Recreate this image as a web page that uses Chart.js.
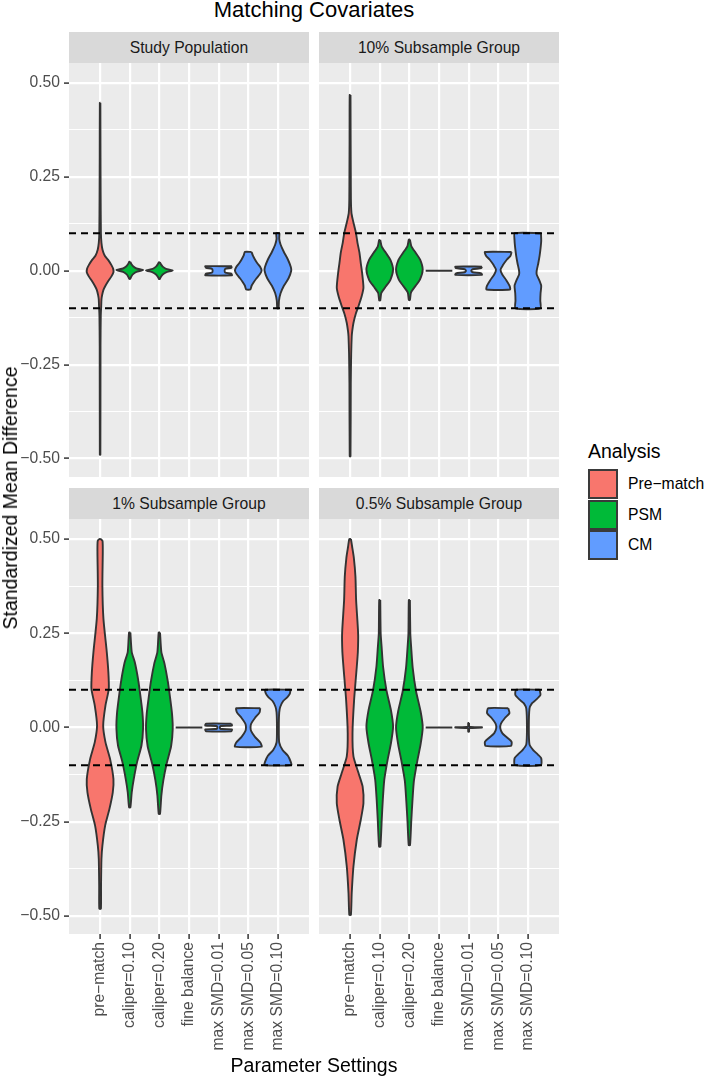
<!DOCTYPE html>
<html>
<head>
<meta charset="utf-8">
<script src="https://cdn.jsdelivr.net/npm/chart.js@4/dist/chart.umd.min.js"></script>
<style>
  body { margin: 0; background: #fff; font-family: "Liberation Sans", Arial, sans-serif; }
  #wrap { position: relative; width: 705px; height: 1077px; overflow: hidden; }
  canvas { position: absolute; }
  .strip { position: absolute; background: #D9D9D9; color: #1A1A1A; font-size: 15.7px; text-align: center; line-height: 31px; height: 31px; width: 240px; }
  .txt { position: absolute; white-space: nowrap; color: #000; }
  .key { position: absolute; left: 588px; width: 26px; height: 26px; border: 2px solid #3A3A3A; }
</style>
</head>
<body>
<div id="wrap">
  <div class="txt" style="left:0;width:628px;top:-1px;text-align:center;font-size:22px;line-height:22px;">Matching Covariates</div>

  <div class="strip" style="left:69px;top:32px;">Study Population</div>
  <div class="strip" style="left:319px;top:32px;">10% Subsample Group</div>
  <div class="strip" style="left:69px;top:488px;">1% Subsample Group</div>
  <div class="strip" style="left:319px;top:488px;">0.5% Subsample Group</div>

  <canvas id="p1" width="309" height="414" style="left:0;top:63px;"></canvas>
  <canvas id="p2" width="240" height="414" style="left:319px;top:63px;"></canvas>
  <canvas id="p3" width="309" height="536" style="left:0;top:519px;"></canvas>
  <canvas id="p4" width="240" height="536" style="left:319px;top:519px;"></canvas>

  <div class="txt" style="left:10px;top:498px;font-size:19.5px;line-height:20px;transform:translate(-50%,-50%) rotate(-90deg);">Standardized Mean Difference</div>
  <div class="txt" style="left:0;width:628px;top:1055px;text-align:center;font-size:19.5px;line-height:20px;">Parameter Settings</div>

  <div class="txt" style="left:588px;top:441px;font-size:19.5px;line-height:20px;">Analysis</div>
  <div id="legend"></div>
</div>

<script>
// facet labels / categories
const categories = ["pre\u2212match", "caliper=0.10", "caliper=0.20", "fine balance", "max SMD=0.01", "max SMD=0.05", "max SMD=0.10"];
const analyses = ["Pre\u2212match", "PSM", "CM"];
const analysisColors = ["#F8766D", "#00BA38", "#619CFF"];
const categoryAnalysis = [0, 1, 1, 2, 2, 2, 2];
const yTicks = [-0.5, -0.375, -0.25, -0.125, 0, 0.125, 0.25, 0.375, 0.5];
const smdThresholds = [0.1, -0.1];

// violin profiles: [SMD value, relative density (1 = full width)], top to bottom
const violinsStudy = [
  [[0.447,0.02],[0.30,0.03],[0.20,0.04],[0.10,0.06],[0.074,0.1],[0.056,0.18],[0.04,0.35],[0.029,0.6],[0.015,0.85],[0.005,0.98],[-0.004,1.0],[-0.015,0.85],[-0.028,0.6],[-0.04,0.4],[-0.051,0.25],[-0.065,0.15],[-0.077,0.1],[-0.095,0.08],[-0.12,0.05],[-0.2,0.03],[-0.49,0.02]],
  [[0.024,0.03],[0.018,0.12],[0.012,0.25],[0.006,0.5],[0.002,1.0],[-0.003,0.5],[-0.009,0.25],[-0.015,0.12],[-0.022,0.03]],
  [[0.023,0.03],[0.017,0.12],[0.011,0.25],[0.005,0.5],[0.001,1.0],[-0.004,0.5],[-0.01,0.25],[-0.016,0.12],[-0.022,0.03]],
  null,
  [[0.012,1.0],[0.008,0.95],[0.005,0.5],[0,0.45],[-0.005,0.5],[-0.008,0.95],[-0.012,1.0]],
  [[0.05,0.25],[0.04,0.35],[0.03,0.5],[0.02,0.68],[0.01,0.9],[0.0,1.0],[-0.01,0.85],[-0.02,0.62],[-0.03,0.42],[-0.04,0.25],[-0.05,0.15]],
  [[0.1,0.12],[0.085,0.1],[0.07,0.2],[0.05,0.45],[0.03,0.75],[0.01,0.97],[0.0,1.0],[-0.02,0.8],[-0.04,0.45],[-0.06,0.2],[-0.08,0.08],[-0.1,0.05]]
];
const violinsTen = [
  [[0.468,0.03],[0.35,0.04],[0.26,0.05],[0.19,0.06],[0.154,0.1],[0.136,0.2],[0.1,0.44],[0.075,0.55],[0.048,0.7],[0.02,0.8],[-0.006,0.9],[-0.045,1.0],[-0.07,0.85],[-0.095,0.62],[-0.115,0.42],[-0.139,0.25],[-0.16,0.16],[-0.175,0.12],[-0.22,0.08],[-0.3,0.05],[-0.494,0.03]],
  [[0.082,0.04],[0.064,0.15],[0.047,0.47],[0.029,0.8],[0.003,1.0],[-0.024,0.8],[-0.042,0.45],[-0.059,0.12],[-0.079,0.04]],
  [[0.083,0.04],[0.065,0.15],[0.048,0.47],[0.03,0.8],[0.003,1.0],[-0.023,0.8],[-0.041,0.45],[-0.058,0.12],[-0.078,0.04]],
  [[0,1.0]],
  [[0.011,1.0],[0.007,0.95],[0.004,0.3],[0,0.2],[-0.004,0.3],[-0.007,0.95],[-0.011,1.0]],
  [[0.05,1.0],[0.04,0.92],[0.03,0.65],[0.015,0.35],[0.003,0.17],[-0.01,0.3],[-0.025,0.6],[-0.04,0.85],[-0.05,0.88]],
  [[0.1,0.98],[0.08,1.0],[0.06,0.95],[0.04,0.88],[0.02,0.78],[0.0,0.66],[-0.01,0.66],[-0.025,0.85],[-0.04,1.0],[-0.06,0.95],[-0.08,0.93],[-0.1,0.93]]
];
const violinsOne = [
  [[0.5,0.05],[0.495,0.18],[0.465,0.2],[0.376,0.17],[0.288,0.25],[0.2,0.5],[0.146,0.62],[0.102,0.65],[0.058,0.4],[0.005,0.23],[-0.039,0.4],[-0.084,0.75],[-0.137,1.0],[-0.172,0.95],[-0.216,0.7],[-0.26,0.38],[-0.314,0.17],[-0.349,0.1],[-0.42,0.07],[-0.481,0.06]],
  [[0.252,0.05],[0.2,0.15],[0.173,0.38],[0.129,0.62],[0.084,0.8],[0.04,0.95],[-0.002,1.0],[-0.048,0.88],[-0.092,0.55],[-0.137,0.3],[-0.172,0.15],[-0.212,0.05]],
  [[0.252,0.05],[0.2,0.15],[0.17,0.38],[0.125,0.62],[0.08,0.8],[0.036,0.95],[-0.005,1.0],[-0.05,0.88],[-0.095,0.55],[-0.14,0.3],[-0.18,0.15],[-0.229,0.05]],
  [[0,1.0]],
  [[0.01,0.95],[0.005,1.0],[0.0035,0.12],[-0.0035,0.12],[-0.005,1.0],[-0.01,0.95]],
  [[0.051,0.9],[0.04,0.85],[0.025,0.5],[0.01,0.22],[0,0.17],[-0.01,0.22],[-0.025,0.5],[-0.04,0.9],[-0.051,1.0]],
  [[0.1,0.95],[0.09,0.9],[0.08,0.7],[0.07,0.4],[0.055,0.18],[0.04,0.1],[0.0,0.07],[-0.04,0.1],[-0.06,0.35],[-0.075,0.75],[-0.09,0.95],[-0.1,1.0]]
];
const violinsHalf = [
  [[0.5,0.06],[0.48,0.15],[0.45,0.28],[0.4,0.4],[0.338,0.45],[0.25,0.6],[0.2,0.58],[0.161,0.5],[0.073,0.3],[-0.015,0.18],[-0.077,0.25],[-0.121,0.63],[-0.157,0.94],[-0.201,1.0],[-0.245,0.8],[-0.298,0.5],[-0.369,0.25],[-0.44,0.12],[-0.497,0.06]],
  [[0.338,0.04],[0.25,0.07],[0.214,0.14],[0.161,0.25],[0.099,0.5],[0.046,0.84],[0.002,1.0],[-0.042,0.84],[-0.086,0.59],[-0.139,0.34],[-0.192,0.23],[-0.245,0.15],[-0.316,0.05]],
  [[0.338,0.04],[0.25,0.07],[0.21,0.14],[0.158,0.25],[0.096,0.5],[0.043,0.84],[0.0,1.0],[-0.045,0.84],[-0.09,0.59],[-0.142,0.34],[-0.195,0.23],[-0.25,0.14],[-0.312,0.05]],
  [[0,1.0]],
  [[0.012,0.03],[0.002,0.06],[0.0005,1.0],[-0.0005,1.0],[-0.002,0.06],[-0.011,0.03]],
  [[0.051,0.75],[0.038,0.84],[0.025,0.5],[0.01,0.2],[-0.002,0.15],[-0.015,0.3],[-0.028,0.7],[-0.038,1.0],[-0.049,0.95]],
  [[0.1,0.88],[0.086,0.94],[0.073,0.6],[0.064,0.3],[0.05,0.12],[0.0,0.07],[-0.045,0.12],[-0.06,0.4],[-0.072,0.75],[-0.082,1.0],[-0.1,0.97]]
];

const HALF_WIDTH = 0.45;   // ggplot violin width 0.9
const X_MIN = -0.05, X_MAX = 8.05;
const FONT = "'Liberation Sans', Arial, sans-serif";
const isMinor = v => Math.abs(v * 4 - Math.round(v * 4)) > 1e-6;

// closed outline: right side top->bottom, then left side bottom->top
function violinOutline(profile, center) {
  const right = profile.map(([y, d]) => ({ x: center + d * HALF_WIDTH, y }));
  const left = profile.slice().reverse().map(([y, d]) => ({ x: center - d * HALF_WIDTH, y }));
  const pts = right.concat(left);
  pts.push(pts[0]);
  return pts;
}

const panelBg = {
  id: "panelBg",
  beforeDraw(chart) {
    const { ctx, chartArea: a } = chart;
    ctx.save();
    ctx.fillStyle = "#EBEBEB";
    ctx.fillRect(a.left, a.top, a.width, a.height);
    ctx.restore();
  }
};

function noPadding(s) {
  s.paddingTop = 0; s.paddingBottom = 0; s.paddingLeft = 0; s.paddingRight = 0;
}

function makePanel(id, violins, showX, showY, yMin, yMax) {
  const datasets = smdThresholds.map(t => ({
    data: [{ x: X_MIN, y: t }, { x: X_MAX, y: t }],
    showLine: true, borderColor: "#000", borderWidth: 2, borderDash: [7, 5], pointRadius: 0, fill: false
  }));
  violins.forEach((profile, i) => {
    if (!profile) return;
    datasets.push({
      data: violinOutline(profile, i + 1),
      showLine: true,
      borderColor: "#333333",
      borderWidth: 1.9,
      backgroundColor: analysisColors[categoryAnalysis[i]],
      fill: "shape",
      pointRadius: 0,
      tension: 0.2
    });
  });

  new Chart(document.getElementById(id), {
    type: "scatter",
    data: { datasets },
    plugins: [panelBg],
    options: {
      responsive: false,
      animation: false,
      devicePixelRatio: 1,
      layout: { padding: 0 },
      plugins: { legend: { display: false }, tooltip: { enabled: false } },
      scales: {
        x: {
          type: "linear", min: X_MIN, max: X_MAX,
          afterBuildTicks: s => { s.ticks = categories.map((c, i) => ({ value: i + 1 })); },
          afterFit: s => { s.height = showX ? 121 : 0; noPadding(s); },
          border: { display: false },
          grid: { color: "#FFFFFF", lineWidth: 2.2, drawTicks: showX, tickLength: 5, tickColor: "#333333", tickWidth: 1.5 },
          ticks: {
            display: showX, autoSkip: false, minRotation: 90, maxRotation: 90, padding: 3,
            color: "#4D4D4D", font: { family: FONT, size: 15.7 },
            callback: v => categories[v - 1]
          }
        },
        y: {
          type: "linear", min: yMin, max: yMax,
          afterBuildTicks: s => { s.ticks = yTicks.map(v => ({ value: v })); },
          afterFit: s => { s.width = showY ? 69 : 0; noPadding(s); },
          border: { display: false },
          grid: {
            color: "#FFFFFF",
            lineWidth: c => isMinor(c.tick.value) ? 1.1 : 2.2,
            drawTicks: showY, tickLength: 5, tickWidth: 1.5,
            tickColor: c => isMinor(c.tick.value) ? "rgba(0,0,0,0)" : "#333333"
          },
          ticks: {
            display: showY, padding: 4,
            color: "#4D4D4D", font: { family: FONT, size: 15.7 },
            callback: v => isMinor(v) ? "" : v.toFixed(2).replace("-", "\u2212")
          }
        }
      }
    }
  });
}

makePanel("p1", violinsStudy, false, true, -0.549, 0.553);
makePanel("p2", violinsTen, false, false, -0.549, 0.553);
makePanel("p3", violinsOne, true, true, -0.548, 0.553);
makePanel("p4", violinsHalf, true, false, -0.548, 0.553);

// legend
const legend = document.getElementById("legend");
analyses.forEach((name, i) => {
  const top = 469 + i * 30.5;
  const key = document.createElement("div");
  key.className = "key";
  key.style.top = top + "px";
  key.style.background = analysisColors[i];
  legend.appendChild(key);
  const label = document.createElement("div");
  label.className = "txt";
  label.style.cssText = `left:628px;top:${top + 6}px;font-size:15.7px;line-height:18px;`;
  label.textContent = name;
  legend.appendChild(label);
});
</script>
</body>
</html>
